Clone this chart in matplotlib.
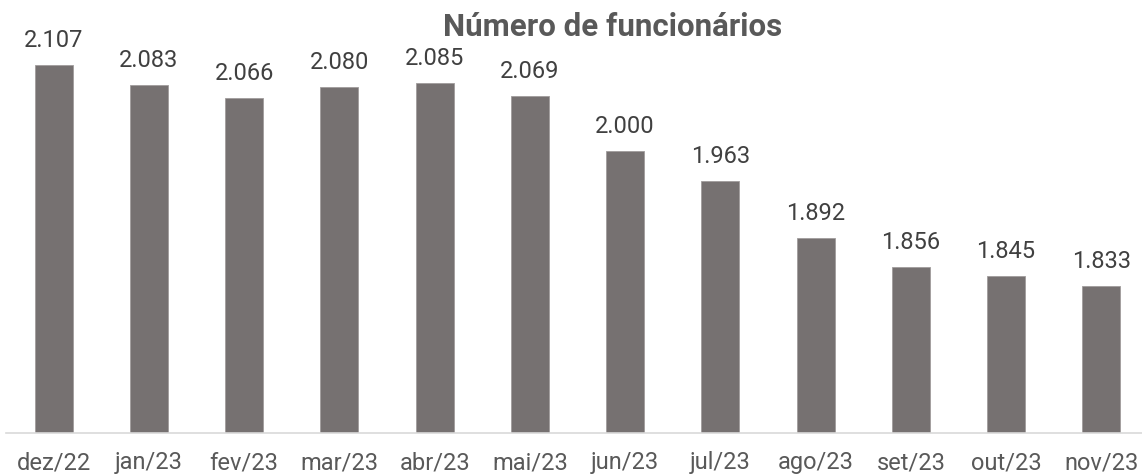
import matplotlib.pyplot as plt

plt.rcParams["font.family"] = ["Roboto", "DejaVu Sans"]

months = ["dez/22", "jan/23", "fev/23", "mar/23", "abr/23", "mai/23",
          "jun/23", "jul/23", "ago/23", "set/23", "out/23", "nov/23"]
employees = [2107, 2083, 2066, 2080, 2085, 2069, 2000, 1963, 1892, 1856, 1845, 1833]
value_labels = ["2.107", "2.083", "2.066", "2.080", "2.085", "2.069",
                "2.000", "1.963", "1.892", "1.856", "1.845", "1.833"]

W, H = 1142, 475
fig = plt.figure(figsize=(W / 100, H / 100), dpi=100)
ax = fig.add_axes([6 / W, 1 - 433 / H, 1143 / W, 433 / H])

x = range(len(months))
bars = ax.bar(x, employees, width=0.40, color="#767171",
              edgecolor="#a09c9c", linewidth=0.6, zorder=2)

for rect, lab in zip(bars, value_labels):
    ax.annotate(lab, (rect.get_x() + rect.get_width() / 2, rect.get_height()),
                xytext=(0, 13), textcoords="offset points",
                ha="center", va="baseline", fontsize=17, color="#404040")

ax.set_ylim(1650, 1650 + 433 / 0.8047)
ax.set_xlim(-0.5, len(months) - 0.5)
ax.set_xticks(list(x))
ax.set_xticklabels(months, fontsize=17, color="#595959")
ax.tick_params(axis="x", length=0, pad=13)
ax.set_yticks([])

for side in ["top", "right", "left"]:
    ax.spines[side].set_visible(False)
ax.spines["bottom"].set_color("#d9d9d9")
ax.spines["bottom"].set_linewidth(1.2)

fig.text(613 / W, 1 - 36 / H, "Número de funcionários", ha="center",
         va="baseline", fontsize=22.5, fontweight="bold", color="#595959")

fig.savefig("out.png", dpi=100)
